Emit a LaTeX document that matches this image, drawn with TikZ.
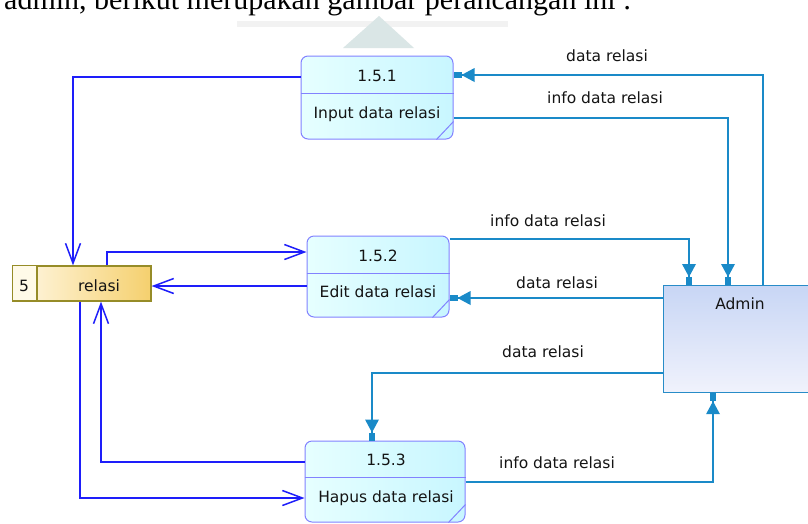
\documentclass[tikz,border=0pt]{standalone}
\usepackage{fontspec}
\setmainfont{DejaVu Sans}
\newfontfamily\bodyserif{Liberation Serif}
\usetikzlibrary{arrows.meta}

\definecolor{procBorder}{RGB}{130,130,255}
\definecolor{procFillA}{RGB}{230,255,255}
\definecolor{procFillB}{RGB}{200,246,255}
\definecolor{flowBlue}{RGB}{30,30,250}
\definecolor{flowTeal}{RGB}{26,138,200}
\definecolor{storeBorder}{RGB}{150,140,40}
\definecolor{storeFillA}{RGB}{255,248,230}
\definecolor{storeFillB}{RGB}{245,208,110}
\definecolor{storeNum}{RGB}{255,250,232}
\definecolor{adminBorder}{RGB}{40,140,200}
\definecolor{adminFillA}{RGB}{200,214,245}
\definecolor{adminFillB}{RGB}{240,242,252}
\definecolor{inkText}{RGB}{20,20,20}
\definecolor{markTri}{RGB}{218,230,230}
\definecolor{markBar}{RGB}{242,242,242}

\tikzset{
  procbox/.style={draw=procBorder, line width=1pt, rounded corners=7pt,
    left color=procFillA, right color=procFillB,
    inner sep=0pt},
  procline/.style={draw=procBorder, line width=1pt},
  storebox/.style={draw=storeBorder, line width=1.2pt,
    left color=storeFillA, right color=storeFillB, inner sep=0pt},
  entbox/.style={draw=adminBorder, line width=1.2pt,
    shading=axis, shading angle=135,
    top color=adminFillA, bottom color=adminFillB, inner sep=0pt},
  lbl/.style={font=\fontsize{15.5}{18}\selectfont, text=inkText, anchor=base, inner sep=0pt},
  storeflow/.style={draw=flowBlue, line width=1.5pt,
    -{Straight Barb[length=20pt,width=15pt,line width=1.5pt]}},
  entflow/.style={draw=flowTeal, line width=1.5pt,
    -{Triangle[length=13pt,width=14pt,line width=0pt] Rectangle[length=8pt,width=6pt,line width=0pt]}},
}

\begin{document}
\begin{tikzpicture}[x=1pt,y=-1pt]
\clip (0,0) rectangle (808,523);
\fill[white] (0,0) rectangle (808,523);

% faint watermark behind the heading line
\fill[markBar] (237,21) rectangle (508,27);
\fill[markTri] (379,16) -- (414,48) -- (343,48) -- cycle;

% heading sentence of the page, cut at the top edge
\node[anchor=base west, inner sep=0pt, font=\bodyserif\fontsize{30}{34}\selectfont]
  (head) at (4,9.5) {admin, berikut merupakan gambar perancangan ini :};

% processes
\node[procbox, minimum width=152pt, minimum height=83pt] (p1) at (377,97.5) {};
\node[procbox, minimum width=142pt, minimum height=81pt] (p2) at (378,276.5) {};
\node[procbox, minimum width=160pt, minimum height=81pt] (p3) at (385,481.5) {};
\draw[procline] (p1.west |- 0,93) -- (p1.east |- 0,93);
\draw[procline] (p2.west |- 0,273) -- (p2.east |- 0,273);
\draw[procline] (p3.west |- 0,477) -- (p3.east |- 0,477);
\draw[procline] ([yshift=18pt]p1.south east) -- ([xshift=-17pt]p1.south east);
\draw[procline] ([yshift=18pt]p2.south east) -- ([xshift=-17pt]p2.south east);
\draw[procline] ([yshift=18pt]p3.south east) -- ([xshift=-17pt]p3.south east);
\node[lbl] (p1id) at (377,81) {1.5.1};
\node[lbl] (p1tx) at (377,118) {Input data relasi};
\node[lbl] (p2id) at (378,261) {1.5.2};
\node[lbl] (p2tx) at (378,297) {Edit data relasi};
\node[lbl] (p3id) at (386,465) {1.5.3};
\node[lbl] (p3tx) at (386,502) {Hapus data relasi};

% data store
\node[storebox, minimum width=138pt, minimum height=35pt] (st) at (82,283.5) {};
\fill[storeNum] ([xshift=0.6pt,yshift=-0.6pt]st.north west) rectangle (37,300.4);
\draw[storeBorder, line width=1.2pt] (st.north -| 37,0) -- (st.south -| 37,0);
\node[lbl] (stid) at (24,291) {5};
\node[lbl] (sttx) at (99,291) {relasi};

% external entity
\node[entbox, minimum width=250pt, minimum height=107pt, anchor=north west] (ad) at (663,285) {};
\node[lbl] (adtx) at (740,309) {Admin};

% flows between processes and the store
\draw[storeflow] (p1.west |- 0,77) -| (st.north -| 73,0);
\draw[storeflow] (st.north -| 107,0) |- (p2.west |- 0,252);
\draw[storeflow] (p2.west |- 0,286) -- (st.east |- 0,286);
\draw[storeflow] (st.south -| 80,0) |- (p3.west |- 0,498);
\draw[storeflow] (p3.west |- 0,462) -| (st.south -| 101,0);

% flows between processes and Admin
\draw[entflow] (ad.north -| 763,0) |- (p1.east |- 0,75);
\draw[entflow] (p1.east |- 0,118) -| (ad.north -| 728,0);
\draw[entflow] (p2.east |- 0,239) -| (ad.north -| 689,0);
\draw[entflow] (ad.west |- 0,298) -- (p2.east |- 0,298);
\draw[entflow] (ad.west |- 0,373) -| (p3.north -| 372,0);
\draw[entflow] (p3.east |- 0,482) -| (ad.south -| 713,0);

% flow labels
\node[lbl] (f1) at (607,61) {data relasi};
\node[lbl] (f2) at (605,103) {info data relasi};
\node[lbl] (f3) at (548,226) {info data relasi};
\node[lbl] (f4) at (557,288) {data relasi};
\node[lbl] (f5) at (543,357) {data relasi};
\node[lbl] (f6) at (557,468) {info data relasi};
\end{tikzpicture}
\end{document}
